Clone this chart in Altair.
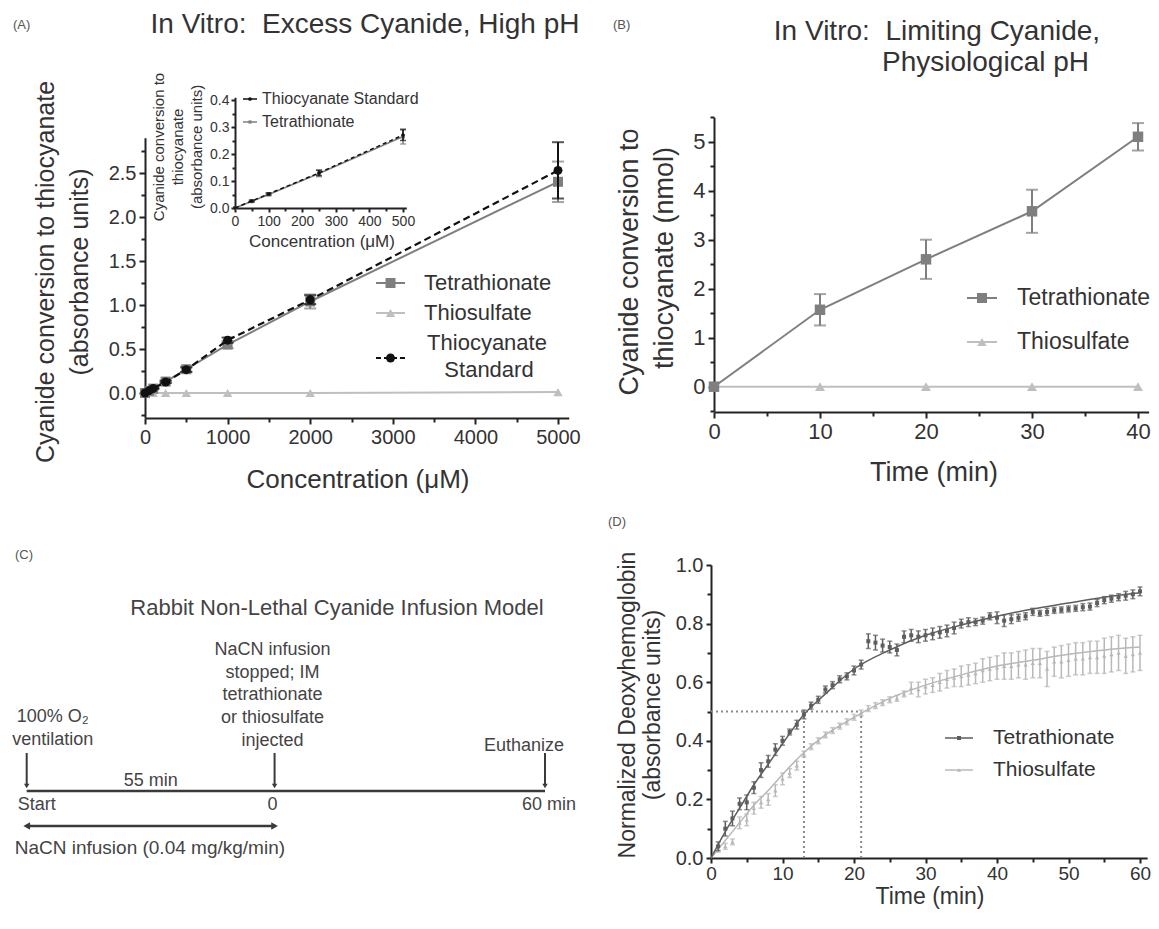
import altair as alt
import pandas as pd

W, H = 1143, 913
FONT = "Liberation Sans"
TXT = "#333333"
AXC = "#222222"


def X(px):
    return px - 8


def Y(py):
    return py - 8


# ---------------- data ----------------
# Panel A
a_conc = [0, 50, 100, 250, 500, 1000, 2000, 5000]
a_tetra = [0, 0.025, 0.05, 0.13, 0.27, 0.55, 1.04, 2.40]
a_tetra_err = [0, 0.004, 0.005, 0.015, 0.03, 0.04, 0.08, 0.23]
a_thio = [0, 0, 0, 0, 0, 0, 0, 0.01]
a_scn = [0, 0.026, 0.052, 0.125, 0.265, 0.60, 1.06, 2.53]
a_scn_err = [0, 0.004, 0.005, 0.012, 0.025, 0.03, 0.05, 0.32]
# Inset
i_conc = [0, 50, 100, 250, 500]
i_tetra = [0, 0.025, 0.05, 0.128, 0.265]
i_tetra_err = [0, 0.003, 0.004, 0.012, 0.028]
i_scn = [0, 0.026, 0.052, 0.13, 0.27]
i_scn_err = [0, 0.003, 0.004, 0.01, 0.02]
# Panel B
b_time = [0, 10, 20, 30, 40]
b_tetra = [0, 1.57, 2.60, 3.58, 5.10]
b_tetra_err = [0, 0.32, 0.40, 0.44, 0.28]
b_thio = [0, 0, 0, 0, 0]
# Panel C
c_events = [-55, 0, 60]
# Panel D
d_t = list(range(1, 61))
d_tet = [0.04, 0.10, 0.135, 0.185, 0.19, 0.24, 0.30, 0.33, 0.37, 0.40,
         0.43, 0.455, 0.49, 0.52, 0.54, 0.575, 0.59, 0.61, 0.62, 0.64,
         0.66, 0.74, 0.735, 0.725, 0.72, 0.71, 0.755, 0.76, 0.755, 0.76,
         0.765, 0.77, 0.775, 0.785, 0.80, 0.805, 0.805, 0.81, 0.825, 0.82,
         0.81, 0.815, 0.82, 0.825, 0.84, 0.835, 0.84, 0.845, 0.847, 0.85,
         0.852, 0.856, 0.858, 0.87, 0.88, 0.885, 0.89, 0.895, 0.90, 0.91]
d_tet_err = [0.015, 0.025, 0.025, 0.02, 0.025, 0.02, 0.025, 0.02, 0.02, 0.015,
             0.01, 0.015, 0.015, 0.012, 0.012, 0.012, 0.012, 0.012, 0.012, 0.015,
             0.015, 0.025, 0.025, 0.022, 0.02, 0.02, 0.02, 0.02, 0.02, 0.02,
             0.02, 0.02, 0.02, 0.02, 0.015, 0.015, 0.012, 0.012, 0.012, 0.02,
             0.02, 0.015, 0.012, 0.012, 0.012, 0.01, 0.012, 0.01, 0.01, 0.01,
             0.01, 0.012, 0.012, 0.012, 0.012, 0.012, 0.012, 0.015, 0.015, 0.015]
d_thi = [0.03, 0.04, 0.055, 0.12, 0.13, 0.17, 0.19, 0.20, 0.23, 0.27,
         0.29, 0.315, 0.355, 0.38, 0.40, 0.42, 0.435, 0.45, 0.465, 0.48,
         0.495, 0.51, 0.52, 0.53, 0.54, 0.545, 0.56, 0.58, 0.575, 0.585,
         0.59, 0.60, 0.61, 0.615, 0.62, 0.625, 0.63, 0.64, 0.645, 0.65,
         0.655, 0.655, 0.66, 0.66, 0.665, 0.665, 0.645, 0.67, 0.67, 0.675,
         0.68, 0.68, 0.685, 0.685, 0.69, 0.695, 0.70, 0.69, 0.695, 0.70]
d_thi_err = [0.01, 0.01, 0.01, 0.02, 0.02, 0.02, 0.02, 0.02, 0.02, 0.02,
             0.015, 0.015, 0.01, 0.01, 0.01, 0.01, 0.01, 0.01, 0.01, 0.01,
             0.01, 0.01, 0.01, 0.01, 0.01, 0.01, 0.01, 0.02, 0.025, 0.025,
             0.025, 0.03, 0.03, 0.03, 0.035, 0.035, 0.035, 0.04, 0.04, 0.04,
             0.045, 0.045, 0.045, 0.05, 0.05, 0.05, 0.06, 0.05, 0.055, 0.055,
             0.055, 0.055, 0.055, 0.055, 0.06, 0.06, 0.06, 0.06, 0.06, 0.06]
d_fit_t = [0, 2, 4, 6, 8, 10, 13, 16, 20, 25, 30, 35, 40, 45, 50, 55, 60]
d_fit_tet = [0, 0.09, 0.17, 0.25, 0.32, 0.39, 0.49, 0.56, 0.645, 0.71, 0.76,
             0.795, 0.825, 0.85, 0.87, 0.89, 0.905]
d_fit_thi = [0, 0.06, 0.12, 0.18, 0.23, 0.285, 0.36, 0.42, 0.48, 0.545, 0.59,
             0.625, 0.655, 0.675, 0.695, 0.71, 0.72]
d_half_x = [13, 21]
d_half_y = 0.5

# ---------------- helpers ----------------
def sc(dom, rng):
    return alt.Scale(domain=dom, range=rng, nice=False, zero=False)


def line(xv, yv, xs, ys, color, width=2, dash=None, interp="linear"):
    kw = dict(color=color, strokeWidth=width, interpolate=interp)
    if dash:
        kw["strokeDash"] = dash
    return alt.Chart(pd.DataFrame({"x": xv, "y": yv})).mark_line(**kw).encode(
        x=alt.X("x:Q", scale=xs, axis=None), y=alt.Y("y:Q", scale=ys, axis=None))


def points(xv, yv, xs, ys, color, shape, size):
    return alt.Chart(pd.DataFrame({"x": xv, "y": yv})).mark_point(
        shape=shape, filled=True, size=size, color=color, opacity=1).encode(
        x=alt.X("x:Q", scale=xs, axis=None), y=alt.Y("y:Q", scale=ys, axis=None))


def errbars(xv, yv, ev, xs, ys, color, width=2, cap=10):
    rows = [(x, y - e, y + e) for x, y, e in zip(xv, yv, ev) if e > 0]
    df = pd.DataFrame(rows, columns=["x", "lo", "hi"])
    base = alt.Chart(df)
    r = base.mark_rule(color=color, strokeWidth=width).encode(
        x=alt.X("x:Q", scale=xs, axis=None), y=alt.Y("lo:Q", scale=ys, axis=None), y2="hi:Q")
    t1 = base.mark_tick(orient="horizontal", size=cap, thickness=width, color=color).encode(
        x=alt.X("x:Q", scale=xs, axis=None), y=alt.Y("lo:Q", scale=ys, axis=None))
    t2 = base.mark_tick(orient="horizontal", size=cap, thickness=width, color=color).encode(
        x=alt.X("x:Q", scale=xs, axis=None), y=alt.Y("hi:Q", scale=ys, axis=None))
    return [r, t1, t2]


def axes(xs, ys, xdom, ydom, xaxis, yaxis):
    return alt.Chart(pd.DataFrame({"x": [xdom[0]], "y": [ydom[0]]})).mark_point(opacity=0).encode(
        x=alt.X("x:Q", scale=xs, axis=xaxis), y=alt.Y("y:Q", scale=ys, axis=yaxis))


def ax(orient, offset, values, fmt=None, labels=True, size=20, tick=6, domain=True, pad=3):
    kw = dict(orient=orient, offset=offset, values=values, grid=False, title=None,
              tickSize=tick, tickWidth=2, tickColor=AXC, domain=domain, domainColor=AXC,
              domainWidth=2, labels=labels, labelFont=FONT, labelFontSize=size,
              labelColor=TXT, labelPadding=pad, labelFlush=False, labelOverlap=False)
    if fmt:
        kw["format"] = fmt
    return alt.Axis(**kw)


def txt(s, x, y, size=16, align="left", angle=0, color=TXT):
    return alt.Chart(pd.DataFrame({"t": [s]})).mark_text(
        align=align, baseline="middle", fontSize=size, font=FONT, color=color, angle=angle).encode(
        x=alt.value(X(x)), y=alt.value(Y(y)), text="t:N")


def legsym(x0, x1, y, color, shape, size, width=2, dash=None):
    kw = dict(color=color, strokeWidth=width)
    if dash:
        kw["strokeDash"] = dash
    one = pd.DataFrame({"a": [0]})
    r = alt.Chart(one).mark_rule(**kw).encode(
        x=alt.value(X(x0)), x2=alt.value(X(x1)), y=alt.value(Y(y)))
    p = alt.Chart(one).mark_point(shape=shape, filled=True, size=size, color=color, opacity=1).encode(
        x=alt.value(X((x0 + x1) / 2)), y=alt.value(Y(y)))
    return [r, p]


layers = []
TET, THI, SCN = "#7f7f7f", "#bfbfbf", "#111111"

# ---------------- Panel A ----------------
axd, ayd = [0, 5130], [-0.28, 2.9]
axr = [X(145), X(145 + 5130 * 0.0826)]
ayr = [Y(393 + 0.28 * 88), Y(393 - 2.9 * 88)]
axs, ays = sc(axd, axr), sc(ayd, ayr)
layers.append(axes(axs, ays, axd, ayd,
                   ax("bottom", Y(418) - H, [0, 1000, 2000, 3000, 4000, 5000], "d", size=20),
                   ax("left", -X(145), [0, 0.5, 1.0, 1.5, 2.0, 2.5], ".1f", size=20)))
layers.append(axes(sc(axd, axr), sc(ayd, ayr), axd, ayd,
                   ax("bottom", Y(418) - H, [500, 1500, 2500, 3500, 4500], labels=False, tick=4, domain=False),
                   ax("left", -X(145), [-0.25, 0.25, 0.75, 1.25, 1.75, 2.25, 2.75], labels=False, tick=4, domain=False)))
layers.append(line(a_conc, a_thio, axs, ays, THI, 2))
layers.append(points(a_conc, a_thio, axs, ays, THI, "triangle-up", 90))
layers.append(line(a_conc, a_tetra, axs, ays, TET, 2))
layers += errbars(a_conc, a_tetra, a_tetra_err, axs, ays, TET, 2, 12)
layers.append(points(a_conc, a_tetra, axs, ays, TET, "square", 100))
layers.append(line(a_conc, a_scn, axs, ays, SCN, 2.2, [7, 4]))
layers += errbars(a_conc, a_scn, a_scn_err, axs, ays, SCN, 2, 12)
layers.append(points(a_conc, a_scn, axs, ays, SCN, "circle", 80))

# Inset
ixd, iyd = [0, 510], [0, 0.41]
ixr, iyr = [X(235), X(235 + 510 * 0.336)], [Y(208), Y(208 - 0.41 * 270)]
ixs, iys = sc(ixd, ixr), sc(iyd, iyr)
layers.append(axes(ixs, iys, ixd, iyd,
                   ax("bottom", Y(208) - H, [0, 100, 200, 300, 400, 500], "d", size=14, tick=4, pad=2),
                   ax("left", -X(235), [0, 0.1, 0.2, 0.3, 0.4], ".1f", size=14, tick=4, pad=2)))
layers.append(axes(sc(ixd, ixr), sc(iyd, iyr), ixd, iyd,
                   ax("bottom", Y(208) - H, [50, 150, 250, 350, 450], labels=False, tick=3, domain=False),
                   ax("left", -X(235), [0.05, 0.15, 0.25, 0.35], labels=False, tick=3, domain=False)))
layers.append(line(i_conc, i_tetra, ixs, iys, TET, 1.5))
layers += errbars(i_conc, i_tetra, i_tetra_err, ixs, iys, TET, 1.5, 6)
layers.append(points(i_conc, i_tetra, ixs, iys, TET, "square", 16))
layers.append(line(i_conc, i_scn, ixs, iys, SCN, 1.5, [4, 3]))
layers += errbars(i_conc, i_scn, i_scn_err, ixs, iys, SCN, 1.5, 6)
layers.append(points(i_conc, i_scn, ixs, iys, SCN, "circle", 12))

# A texts
layers.append(txt("(A)", 13, 25, 13, color="#555555"))
layers.append(txt("In Vitro:\u00a0 Excess Cyanide, High pH", 365, 25, 28, "center"))
layers.append(txt("Cyanide conversion to thiocyanate", 46, 272, 25, "center", 270))
layers.append(txt("(absorbance units)", 80, 272, 25, "center", 270))
layers.append(txt("Concentration (\u03bcM)", 358, 480, 26, "center"))
layers += legsym(376, 405, 283, TET, "square", 100)
layers += legsym(376, 405, 313, THI, "triangle-up", 90)
layers += legsym(376, 405, 358, SCN, "circle", 80, 2.2, [5, 3])
layers.append(txt("Tetrathionate", 424, 283, 22))
layers.append(txt("Thiosulfate", 424, 313, 22))
layers.append(txt("Thiocyanate", 487, 343, 22, "center"))
layers.append(txt("Standard", 489, 370, 22, "center"))
layers.append(txt("Cyanide conversion to", 159, 147, 15, "center", 270))
layers.append(txt("thiocyanate", 178, 147, 15, "center", 270))
layers.append(txt("(absorbance units)", 197, 147, 15, "center", 270))
layers.append(txt("Concentration (\u03bcM)", 322, 242, 17, "center"))
layers += legsym(243, 257, 99, SCN, "circle", 14, 1.5)
layers += legsym(243, 257, 122, TET, "square", 10, 1.5)
layers.append(txt("Thiocyanate Standard", 262, 99, 16))
layers.append(txt("Tetrathionate", 262, 122, 16))

# ---------------- Panel B ----------------
bxd, byd = [0, 41], [-0.5, 5.5]
bpx = (1138 - 714) / 40.0
bxr = [X(714), X(714 + 41 * bpx)]
byr = [Y(386.7 + 0.5 * 49), Y(386.7 - 5.5 * 49)]
bxs, bys = sc(bxd, bxr), sc(byd, byr)
layers.append(axes(bxs, bys, bxd, byd,
                   ax("bottom", Y(412) - H, [0, 10, 20, 30, 40], "d", size=22),
                   ax("left", -X(714), [0, 1, 2, 3, 4, 5], "d", size=22)))
layers.append(axes(sc(bxd, bxr), sc(byd, byr), bxd, byd,
                   ax("bottom", Y(412) - H, [5, 15, 25, 35], labels=False, tick=4, domain=False),
                   ax("left", -X(714), [-0.5, 0.5, 1.5, 2.5, 3.5, 4.5, 5.5], labels=False, tick=4, domain=False)))
layers.append(line(b_time, b_thio, bxs, bys, THI, 2))
layers.append(points(b_time, b_thio, bxs, bys, THI, "triangle-up", 100))
layers.append(line(b_time, b_tetra, bxs, bys, TET, 2))
layers += errbars(b_time, b_tetra, b_tetra_err, bxs, bys, TET, 2, 12)
layers.append(points(b_time, b_tetra, bxs, bys, TET, "square", 110))
layers.append(txt("(B)", 613, 25, 13, color="#555555"))
layers.append(txt("In Vitro:\u00a0 Limiting Cyanide,", 937, 32, 28, "center"))
layers.append(txt("Physiological pH", 882, 63, 28))
layers.append(txt("Cyanide conversion to", 630, 262, 27, "center", 270))
layers.append(txt("thiocyanate (nmol)", 665, 258, 27, "center", 270))
layers.append(txt("Time (min)", 934, 473, 27, "center"))
layers += legsym(967, 997, 298, TET, "square", 100)
layers += legsym(967, 997, 342, THI, "triangle-up", 90)
layers.append(txt("Tetrathionate", 1017, 298, 23))
layers.append(txt("Thiosulfate", 1017, 342, 23))

# ---------------- Panel C ----------------
cxs = sc([-55, 60], [X(26.7), X(545)])
C_COL = "#3a3a3a"


def ctext(s, xv, y, size=18, align="center", dx=0):
    return alt.Chart(pd.DataFrame({"x": [xv], "t": [s]})).mark_text(
        align=align, baseline="middle", fontSize=size, font=FONT, color="#444444", dx=dx).encode(
        x=alt.X("x:Q", scale=cxs, axis=None), y=alt.value(Y(y)), text="t:N")


ev = pd.DataFrame({"x": c_events})
layers.append(alt.Chart(pd.DataFrame({"a": [c_events[0]], "b": [c_events[-1]]})).mark_rule(
    color=C_COL, strokeWidth=2.5).encode(x=alt.X("a:Q", scale=cxs, axis=None), x2="b:Q", y=alt.value(Y(791))))
layers.append(alt.Chart(ev).mark_rule(color=C_COL, strokeWidth=2).encode(
    x=alt.X("x:Q", scale=cxs, axis=None), y=alt.value(Y(753)), y2=alt.value(Y(786))))
layers.append(alt.Chart(ev).mark_point(shape="triangle-down", filled=True, size=30, color=C_COL, opacity=1).encode(
    x=alt.X("x:Q", scale=cxs, axis=None), y=alt.value(Y(786))))
layers.append(alt.Chart(pd.DataFrame({"a": [c_events[0]], "b": [c_events[1]]})).mark_rule(
    color=C_COL, strokeWidth=2.5).encode(x=alt.X("a:Q", scale=cxs, axis=None), x2="b:Q", y=alt.value(Y(826))))
layers.append(alt.Chart(pd.DataFrame({"x": [c_events[0]]})).mark_point(
    shape="triangle-left", filled=True, size=60, color=C_COL, opacity=1).encode(
    x=alt.X("x:Q", scale=cxs, axis=None), y=alt.value(Y(826))))
layers.append(alt.Chart(pd.DataFrame({"x": [c_events[1]]})).mark_point(
    shape="triangle-right", filled=True, size=60, color=C_COL, opacity=1).encode(
    x=alt.X("x:Q", scale=cxs, axis=None), y=alt.value(Y(826))))
layers.append(txt("(C)", 15, 555, 13, color="#555555"))
layers.append(txt("Rabbit Non-Lethal Cyanide Infusion Model", 337, 608, 22, "center", color="#444444"))
layers.append(ctext("100% O\u2082", -55, 717, dx=26))
layers.append(ctext("ventilation", -55, 740, dx=26))
for i, s in enumerate(["NaCN infusion", "stopped; IM", "tetrathionate", "or thiosulfate", "injected"]):
    layers.append(ctext(s, 0, 650 + i * 22.7, dx=-2))
layers.append(ctext("Euthanize", 60, 746, dx=-21))
layers.append(ctext("55 min", -27.5, 781))
layers.append(ctext("Start", -55, 805, align="left", dx=-9))
layers.append(ctext("0", 0, 805, dx=-2))
layers.append(ctext("60 min", 60, 805, dx=4))
layers.append(ctext("NaCN infusion (0.04 mg/kg/min)", -55, 848, size=19, align="left", dx=-12))

# ---------------- Panel D ----------------
dxd, dyd = [0, 61], [0, 1]
dpx = (1140 - 711) / 60.0
dxr, dyr = [X(711), X(711 + 61 * dpx)], [Y(858), Y(565)]
dxs, dys = sc(dxd, dxr), sc(dyd, dyr)
layers.append(axes(dxs, dys, dxd, dyd,
                   ax("bottom", Y(858) - H, [0, 10, 20, 30, 40, 50, 60], "d", size=19, tick=5, pad=1),
                   ax("left", -X(711), [0, 0.2, 0.4, 0.6, 0.8, 1.0], ".1f", size=20, tick=5)))
layers.append(axes(sc(dxd, dxr), sc(dyd, dyr), dxd, dyd,
                   ax("bottom", Y(858) - H, [5, 15, 25, 35, 45, 55], labels=False, tick=4, domain=False),
                   ax("left", -X(711), [0.1, 0.3, 0.5, 0.7, 0.9], labels=False, tick=4, domain=False)))
DOT = "#8a8a8a"
layers.append(alt.Chart(pd.DataFrame({"a": [0], "b": [d_half_x[1]], "y": [d_half_y]})).mark_rule(
    color=DOT, strokeWidth=2, strokeDash=[2, 3]).encode(
    x=alt.X("a:Q", scale=dxs, axis=None), x2="b:Q", y=alt.Y("y:Q", scale=dys, axis=None)))
layers.append(alt.Chart(pd.DataFrame({"x": d_half_x, "lo": [0, 0], "hi": [d_half_y, d_half_y]})).mark_rule(
    color=DOT, strokeWidth=2, strokeDash=[2, 3]).encode(
    x=alt.X("x:Q", scale=dxs, axis=None), y=alt.Y("lo:Q", scale=dys, axis=None), y2="hi:Q"))
DTET, DTHI = "#5e5e5e", "#b8b8b8"
layers.append(line(d_fit_t, d_fit_thi, dxs, dys, DTHI, 1.5, interp="monotone"))
layers += errbars(d_t, d_thi, d_thi_err, dxs, dys, DTHI, 1.5, 5)
layers.append(points(d_t, d_thi, dxs, dys, DTHI, "triangle-up", 18))
layers.append(line(d_fit_t, d_fit_tet, dxs, dys, DTET, 1.5, interp="monotone"))
layers += errbars(d_t, d_tet, d_tet_err, dxs, dys, DTET, 1.5, 5)
layers.append(points(d_t, d_tet, dxs, dys, DTET, "square", 16))
layers.append(txt("(D)", 608, 522, 13, color="#555555"))
layers.append(txt("Normalized Deoxyhemoglobin", 628, 705, 23, "center", 270))
layers.append(txt("(absorbance units)", 653, 705, 23, "center", 270))
layers.append(txt("Time (min)", 930, 897, 23, "center"))
layers += legsym(945, 973, 738, DTET, "square", 16, 1.5)
layers += legsym(945, 973, 770, DTHI, "triangle-up", 18, 1.5)
layers.append(txt("Tetrathionate", 993, 738, 21))
layers.append(txt("Thiosulfate", 993, 770, 21))

chart = alt.layer(*layers).resolve_scale(x="independent", y="independent").properties(
    width=W, height=H, padding=0, autosize="none", background="white"
).configure_view(stroke=None)

chart.save("out.html", embed_options={"renderer": "svg", "actions": False})
